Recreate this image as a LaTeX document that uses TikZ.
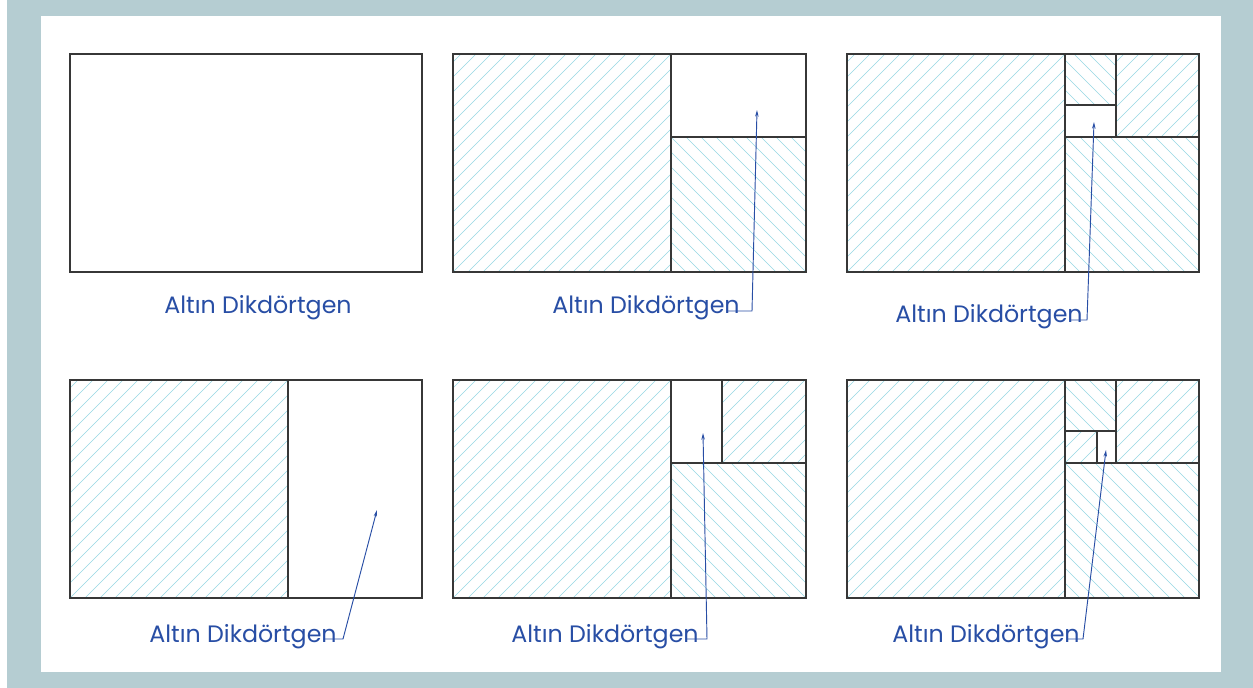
\documentclass[tikz,border=0pt]{standalone}
\usepackage{fontspec}
\setmainfont{Poppins}
\usetikzlibrary{arrows.meta}
\definecolor{frameblue}{RGB}{181,205,210}
\definecolor{hatchc}{RGB}{150,215,228}
\definecolor{edgec}{RGB}{55,55,55}
\definecolor{labc}{RGB}{40,78,165}
\tikzset{
  hat/.style={hatchc, line width=0.45pt},
  edge/.style={edgec, line width=0.95pt},
  lbl/.style={text=labc, font=\fontsize{17.8}{20}\selectfont, inner sep=0pt},
  lead/.style={labc, line width=0.7pt, -{Stealth[length=5pt,width=2.6pt]}},
}
\newcommand\hatchR[4]{%
  \begin{scope}\clip (#1,#2) rectangle (#3,#4);
  \foreach \k in {0,15,...,600} \draw[hat] ({#1-225+\k},#4) -- ++(250,-250);
  \end{scope}}
\newcommand\hatchL[4]{%
  \begin{scope}\clip (#1,#2) rectangle (#3,#4);
  \foreach \k in {0,15,...,600} \draw[hat] ({#1+\k},#4) -- ++(-250,-250);
  \end{scope}}
\begin{document}
\begin{tikzpicture}[x=0.75pt,y=-0.75pt]
\useasboundingbox (0,0) rectangle (1253,688);
\fill[frameblue] (0,0) rectangle (1253,688);
\fill[white] (0,0) rectangle (7,688);
\fill[white] (41,16) rectangle (1221,672);

% Panel 1
\draw[edge] (70,54) rectangle (422,272);
\node[lbl] (l1) at (258,308) {Altın Dikdörtgen};

% Panel 2
\hatchR{453}{54}{671}{272}
\hatchL{671}{137}{806}{272}
\draw[edge] (453,54) rectangle (806,272);
\draw[edge] (671,54) -- (671,272);
\draw[edge] (671,137) -- (806,137);
\node[lbl] (l2) at (646,308) {Altın Dikdörtgen};
\coordinate (t2) at (757,110);
\coordinate (k2) at (752,311);
\draw[lead] (l2.east |- k2) ++(-12,0) -- (k2) -- (t2);

% Panel 3
\hatchR{847}{54}{1065}{272}
\hatchL{1065}{137}{1199}{272}
\hatchR{1116}{54}{1199}{137}
\hatchL{1065}{54}{1116}{105}
\draw[edge] (847,54) rectangle (1199,272);
\draw[edge] (1065,54) -- (1065,272);
\draw[edge] (1065,137) -- (1199,137);
\draw[edge] (1116,54) -- (1116,137);
\draw[edge] (1065,105) -- (1116,105);
\node[lbl] (l3) at (989,317) {Altın Dikdörtgen};
\coordinate (t3) at (1094,122);
\coordinate (k3) at (1087,320);
\draw[lead] (l3.east |- k3) ++(-12,0) -- (k3) -- (t3);

% Panel 4
\hatchR{70}{380}{288}{598}
\draw[edge] (70,380) rectangle (422,598);
\draw[edge] (288,380) -- (288,598);
\node[lbl] (l4) at (243,637) {Altın Dikdörtgen};
\coordinate (t4) at (377,510);
\coordinate (k4) at (343,639);
\draw[lead] (l4.east |- k4) ++(-12,0) -- (k4) -- (t4);

% Panel 5
\hatchR{453}{380}{671}{598}
\hatchL{671}{463}{806}{598}
\hatchR{722}{380}{806}{463}
\draw[edge] (453,380) rectangle (806,598);
\draw[edge] (671,380) -- (671,598);
\draw[edge] (671,463) -- (806,463);
\draw[edge] (722,380) -- (722,463);
\node[lbl] (l5) at (605,637) {Altın Dikdörtgen};
\coordinate (t5) at (703,433);
\coordinate (k5) at (707,639);
\draw[lead] (l5.east |- k5) ++(-12,0) -- (k5) -- (t5);

% Panel 6
\hatchR{847}{380}{1065}{598}
\hatchL{1065}{463}{1199}{598}
\hatchR{1116}{380}{1199}{463}
\hatchL{1065}{380}{1116}{431}
\hatchR{1065}{431}{1097}{463}
\draw[edge] (847,380) rectangle (1199,598);
\draw[edge] (1065,380) -- (1065,598);
\draw[edge] (1065,463) -- (1199,463);
\draw[edge] (1116,380) -- (1116,463);
\draw[edge] (1065,431) -- (1116,431);
\draw[edge] (1097,431) -- (1097,463);
\node[lbl] (l6) at (986,637) {Altın Dikdörtgen};
\coordinate (t6) at (1106,450);
\coordinate (k6) at (1083,639);
\draw[lead] (l6.east |- k6) ++(-12,0) -- (k6) -- (t6);
\end{tikzpicture}
\end{document}
